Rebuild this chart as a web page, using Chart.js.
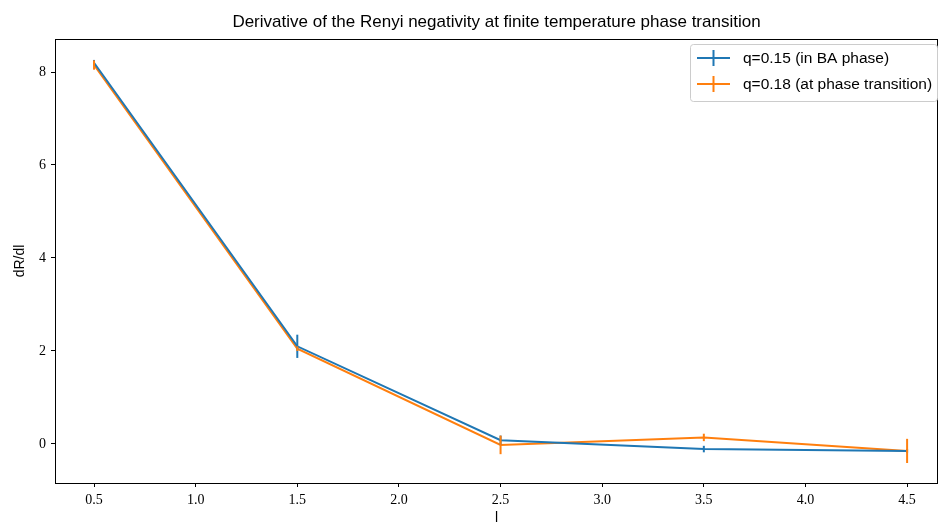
<!DOCTYPE html>
<html>
<head>
<meta charset="utf-8">
<script src="https://cdn.jsdelivr.net/npm/chart.js@4/dist/chart.umd.min.js"></script>
<style>
  html, body { margin: 0; padding: 0; background: #fff; }
  #wrap { width: 939px; height: 527px; }
</style>
</head>
<body>
<div id="wrap"><canvas id="chart" width="939" height="527"></canvas></div>
<script>
// data
const lValues = [0.5, 1.5, 2.5, 3.5, 4.5];
const blueValues = [8.2, 2.1, 0.08, -0.11, -0.15];
const blueErrors = [0.06, 0.25, 0.1, 0.07, 0.04];
const orangeValues = [8.15, 2.05, -0.02, 0.14, -0.15];
const orangeErrors = [0.1, 0.05, 0.2, 0.08, 0.26];
const xTicks = [0.5, 1.0, 1.5, 2.0, 2.5, 3.0, 3.5, 4.0, 4.5];
const yTicks = [0, 2, 4, 6, 8];

const BLUE = '#1f77b4';
const ORANGE = '#ff7f0e';
const titleText = 'Derivative of the Renyi negativity at finite temperature phase transition';
const sansFont = '"Liberation Sans", "DejaVu Sans", sans-serif';
const serifFont = '"Liberation Serif", "DejaVu Serif", serif';

function points(values) {
    return lValues.map((x, i) => ({ x: x, y: values[i] }));
}

// error bars, frame, title and legend drawn like matplotlib
const mplExtras = {
    id: 'mplExtras',
    afterDatasetsDraw(chart) {
        const ctx = chart.ctx;
        const xs = chart.scales.x, ys = chart.scales.y;
        ctx.save();
        chart.data.datasets.forEach(ds => {
            ctx.strokeStyle = ds.borderColor;
            ctx.lineWidth = 2;
            ds.data.forEach((p, i) => {
                const px = xs.getPixelForValue(p.x);
                ctx.beginPath();
                ctx.moveTo(px, ys.getPixelForValue(p.y - ds.errors[i]));
                ctx.lineTo(px, ys.getPixelForValue(p.y + ds.errors[i]));
                ctx.stroke();
            });
        });
        ctx.restore();
    },
    afterDraw(chart) {
        const ctx = chart.ctx;
        const a = chart.chartArea;
        ctx.save();
        // frame
        ctx.strokeStyle = '#000';
        ctx.lineWidth = 1;
        ctx.strokeRect(a.left + 0.5, a.top + 0.5, a.right - a.left - 1, a.bottom - a.top);

        // title
        ctx.fillStyle = '#000';
        ctx.font = '17px ' + sansFont;
        ctx.textAlign = 'center';
        ctx.textBaseline = 'alphabetic';
        ctx.fillText(titleText, (a.left + a.right) / 2, 27);

        // legend
        const lx = 690, ly = 44, lw = 247, lh = 57;
        ctx.fillStyle = 'rgba(255,255,255,0.8)';
        ctx.strokeStyle = '#cccccc';
        ctx.lineWidth = 1;
        ctx.beginPath();
        ctx.roundRect(lx + 0.5, ly + 0.5, lw, lh, 3);
        ctx.fill();
        ctx.stroke();
        ctx.font = '15.5px ' + sansFont;
        ctx.textAlign = 'left';
        ctx.textBaseline = 'middle';
        chart.data.datasets.forEach((ds, i) => {
            const yy = ly + 14 + i * 26;
            ctx.strokeStyle = ds.borderColor;
            ctx.lineWidth = 2;
            ctx.beginPath();
            ctx.moveTo(lx + 7, yy);
            ctx.lineTo(lx + 40, yy);
            ctx.moveTo(lx + 23.5, yy - 8);
            ctx.lineTo(lx + 23.5, yy + 8);
            ctx.stroke();
            ctx.fillStyle = '#000';
            ctx.fillText(ds.label, lx + 53, yy + 1);
        });
        ctx.restore();
    }
};

new Chart(document.getElementById('chart'), {
    type: 'line',
    data: {
        datasets: [
            {
                label: 'q=0.15 (in BA phase)',
                data: points(blueValues),
                errors: blueErrors,
                borderColor: BLUE,
                backgroundColor: BLUE,
                borderWidth: 2,
                pointRadius: 0,
                tension: 0
            },
            {
                label: 'q=0.18 (at phase transition)',
                data: points(orangeValues),
                errors: orangeErrors,
                borderColor: ORANGE,
                backgroundColor: ORANGE,
                borderWidth: 2,
                pointRadius: 0,
                tension: 0
            }
        ]
    },
    options: {
        responsive: false,
        animation: false,
        layout: { padding: { top: 39, right: 1, left: 0, bottom: 0 } },
        plugins: {
            legend: { display: false },
            title: { display: false },
            tooltip: { enabled: false }
        },
        scales: {
            x: {
                type: 'linear',
                min: 0.308,
                max: 4.652,
                afterBuildTicks: s => { s.ticks = xTicks.map(v => ({ value: v })); },
                afterFit: s => { s.height = 44; },
                grid: { display: true, drawOnChartArea: false, drawTicks: true, tickLength: 4, color: '#000', tickColor: '#000' },
                border: { display: false },
                ticks: {
                    color: '#000',
                    padding: 5,
                    maxRotation: 0,
                    autoSkip: false,
                    font: { family: serifFont, size: 14 },
                    callback: v => v.toFixed(1)
                },
                title: {
                    display: true,
                    text: 'l',
                    color: '#000',
                    padding: { top: 0, bottom: 0 },
                    font: { family: sansFont, size: 14 }
                }
            },
            y: {
                min: -0.84,
                max: 8.71,
                afterBuildTicks: s => { s.ticks = yTicks.map(v => ({ value: v })); },
                afterFit: s => { s.width = 55; },
                grid: { display: true, drawOnChartArea: false, drawTicks: true, tickLength: 4, color: '#000', tickColor: '#000' },
                border: { display: false },
                ticks: {
                    color: '#000',
                    padding: 5,
                    font: { family: serifFont, size: 14 },
                    callback: v => String(v)
                },
                title: {
                    display: true,
                    text: 'dR/dl',
                    color: '#000',
                    padding: { top: 12, bottom: 8 },
                    font: { family: sansFont, size: 14 }
                }
            }
        }
    },
    plugins: [mplExtras]
});
</script>
</body>
</html>
